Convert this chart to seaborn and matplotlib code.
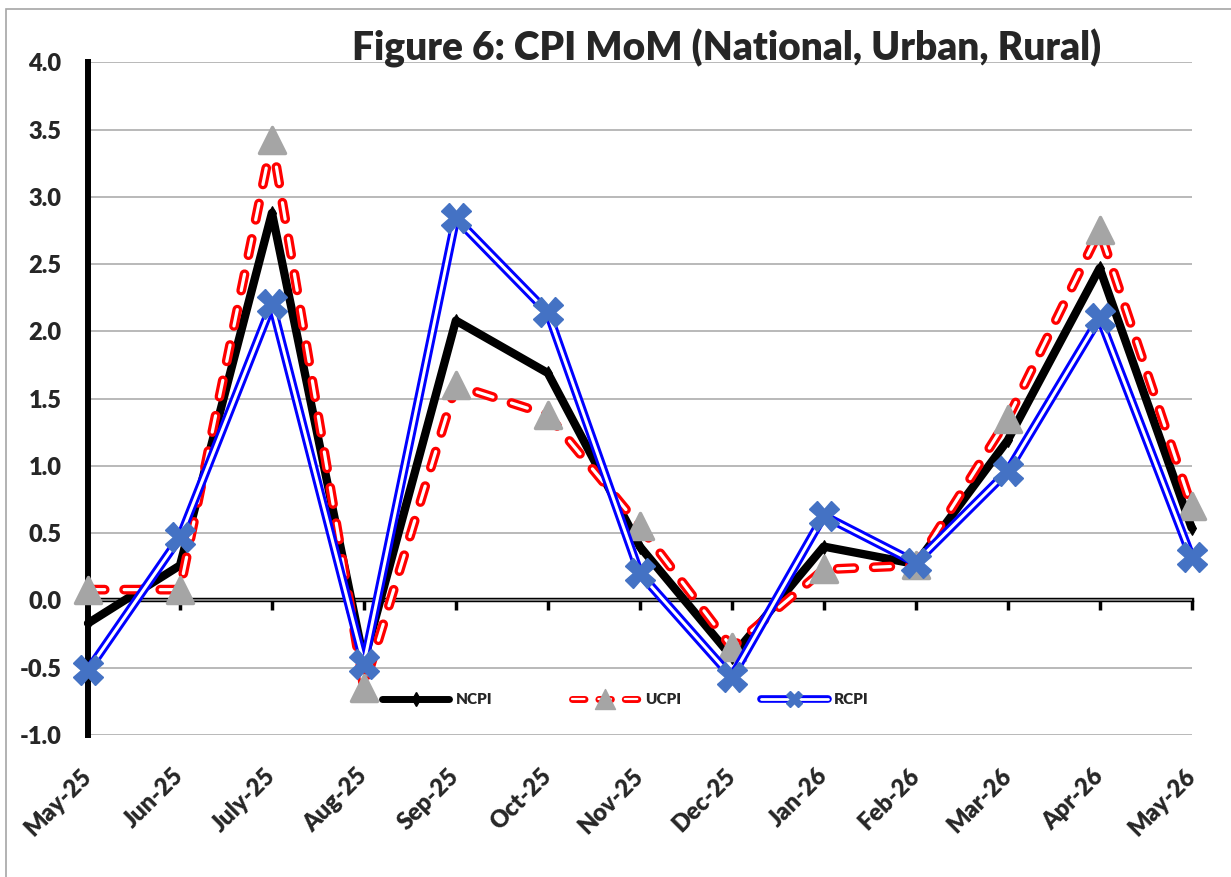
import numpy as np
import pandas as pd
import seaborn as sns
import matplotlib.pyplot as plt
from matplotlib.lines import Line2D
from matplotlib.markers import MarkerStyle
from matplotlib.patches import Rectangle
from matplotlib.legend_handler import HandlerTuple

months = ['May-25', 'Jun-25', 'July-25', 'Aug-25', 'Sep-25', 'Oct-25', 'Nov-25',
          'Dec-25', 'Jan-26', 'Feb-26', 'Mar-26', 'Apr-26', 'May-26']
ncpi = [-0.17, 0.26, 2.88, -0.45, 2.08, 1.69, 0.40, -0.42, 0.40, 0.27, 1.19, 2.47, 0.54]
ucpi = [0.08, 0.08, 3.42, -0.65, 1.60, 1.38, 0.55, -0.35, 0.23, 0.26, 1.35, 2.75, 0.70]
rcpi = [-0.52, 0.47, 2.20, -0.47, 2.84, 2.14, 0.20, -0.57, 0.63, 0.28, 0.96, 2.10, 0.32]
yticks = [-1.0, -0.5, 0.0, 0.5, 1.0, 1.5, 2.0, 2.5, 3.0, 3.5, 4.0]

df = pd.DataFrame({'pos': np.arange(len(months)), 'month': months,
                   'NCPI': ncpi, 'UCPI': ucpi, 'RCPI': rcpi})

sns.set_style("white")
plt.rcParams['font.family'] = ['Lato', 'DejaVu Sans']
plt.rcParams['font.weight'] = 'heavy'
plt.rcParams['lines.scale_dashes'] = False

fig = plt.figure(figsize=(12.31, 8.77), dpi=100)
ax = fig.add_axes([0.0715, 0.162, 0.8965, 0.767])

gray = '#A5A5A5'
xblue = '#4472C4'
tri = MarkerStyle('^', joinstyle='round')
dash = (0, (12, 14))

# NCPI - thick black
sns.lineplot(data=df, x='pos', y='NCPI', ax=ax, color='black', lw=6.0,
             marker='d', ms=7, mec='black', clip_on=False, zorder=3)

# UCPI - red dashed double line with grey triangles
sns.lineplot(data=df, x='pos', y='UCPI', ax=ax, color='red', lw=7.0,
             linestyle=dash, dash_capstyle='round', clip_on=False, zorder=4)
sns.lineplot(data=df, x='pos', y='UCPI', ax=ax, color='white', lw=2.3,
             linestyle=dash, dash_capstyle='round', clip_on=False, zorder=4)
ax.plot(df['pos'], df['UCPI'], ls='none', marker=tri, ms=19, color=gray,
        mec=gray, mew=2.5, clip_on=False, zorder=5)

# RCPI - blue double line with X markers
sns.lineplot(data=df, x='pos', y='RCPI', ax=ax, color='#0000FF', lw=6.5,
             clip_on=False, zorder=6)
sns.lineplot(data=df, x='pos', y='RCPI', ax=ax, color='white', lw=2.2,
             clip_on=False, zorder=6)
ax.plot(df['pos'], df['RCPI'], ls='none', marker='X', ms=21, color=xblue,
        mec=xblue, clip_on=False, zorder=7)

ax.set_xlim(0, len(months) - 1)
ax.set_ylim(-1, 4)
ax.set_yticks(yticks)
ax.set_yticklabels([f'{v:.1f}' for v in yticks], fontsize=17, fontweight='heavy')
ax.set_xticks(df['pos'])
ax.set_xticklabels(months, fontsize=17, fontweight='heavy')
plt.setp(ax.get_xticklabels(), rotation=45, ha='right', va='center',
         rotation_mode='anchor')
ax.tick_params(axis='x', length=0, pad=27)
ax.tick_params(axis='y', length=0, pad=19)
ax.set_xlabel('')
ax.set_ylabel('')

ax.yaxis.grid(True, color='#A6A6A6', lw=1.1)
ax.xaxis.grid(False)
ax.set_axisbelow(True)
for s in ['top', 'right', 'bottom']:
    ax.spines[s].set_visible(False)
ax.spines['left'].set_linewidth(4.3)
ax.spines['left'].set_color('black')
ax.spines['left'].set_zorder(2.5)

# axis line through zero with ticks
sec = ax.secondary_xaxis(0.2)
sec.set_xticks(df['pos'])
sec.tick_params(labelbottom=False, length=7, width=2.5, direction='out', color='black')
sec.spines['bottom'].set_linewidth(3.2)
sec.spines['bottom'].set_color('black')

h_n = (Line2D([], [], color='black', lw=5.0, marker='d', ms=7, solid_capstyle='round'),)
h_u = (Line2D([], [], color='red', lw=5.0, ls=(0, (9, 10)), dash_capstyle='round'),
       Line2D([], [], color='white', lw=1.6, ls=(0, (9, 10)), dash_capstyle='round'),
       Line2D([], [], ls='none', marker=tri, ms=15, color=gray, mec=gray))
h_r = (Line2D([], [], color='#0000FF', lw=5.5, solid_capstyle='round'),
       Line2D([], [], color='white', lw=2.0, solid_capstyle='round'),
       Line2D([], [], ls='none', marker='X', ms=11, color=xblue))
ax.legend([h_n, h_u, h_r], ['NCPI', 'UCPI', 'RCPI'], ncol=3, frameon=False,
          loc='center', bbox_to_anchor=(0.487, 0.052),
          handlelength=4.4, handletextpad=0.4, columnspacing=5.2,
          handler_map={tuple: HandlerTuple(ndivide=1)},
          prop={'weight': 'heavy', 'size': 11, 'family': ['Lato', 'DejaVu Sans']})

fig.text(0.59, 0.931, 'Figure 6: CPI MoM (National, Urban, Rural)', ha='center',
         va='baseline', fontsize=28, fontweight='heavy')

fig.patches.append(Rectangle((6 / 1231, -0.01), 1.1, 1 - 9 / 877 + 0.01,
                             transform=fig.transFigure, fill=False,
                             ec='#A6A6A6', lw=1.2))

fig.savefig('out.png', dpi=100)
